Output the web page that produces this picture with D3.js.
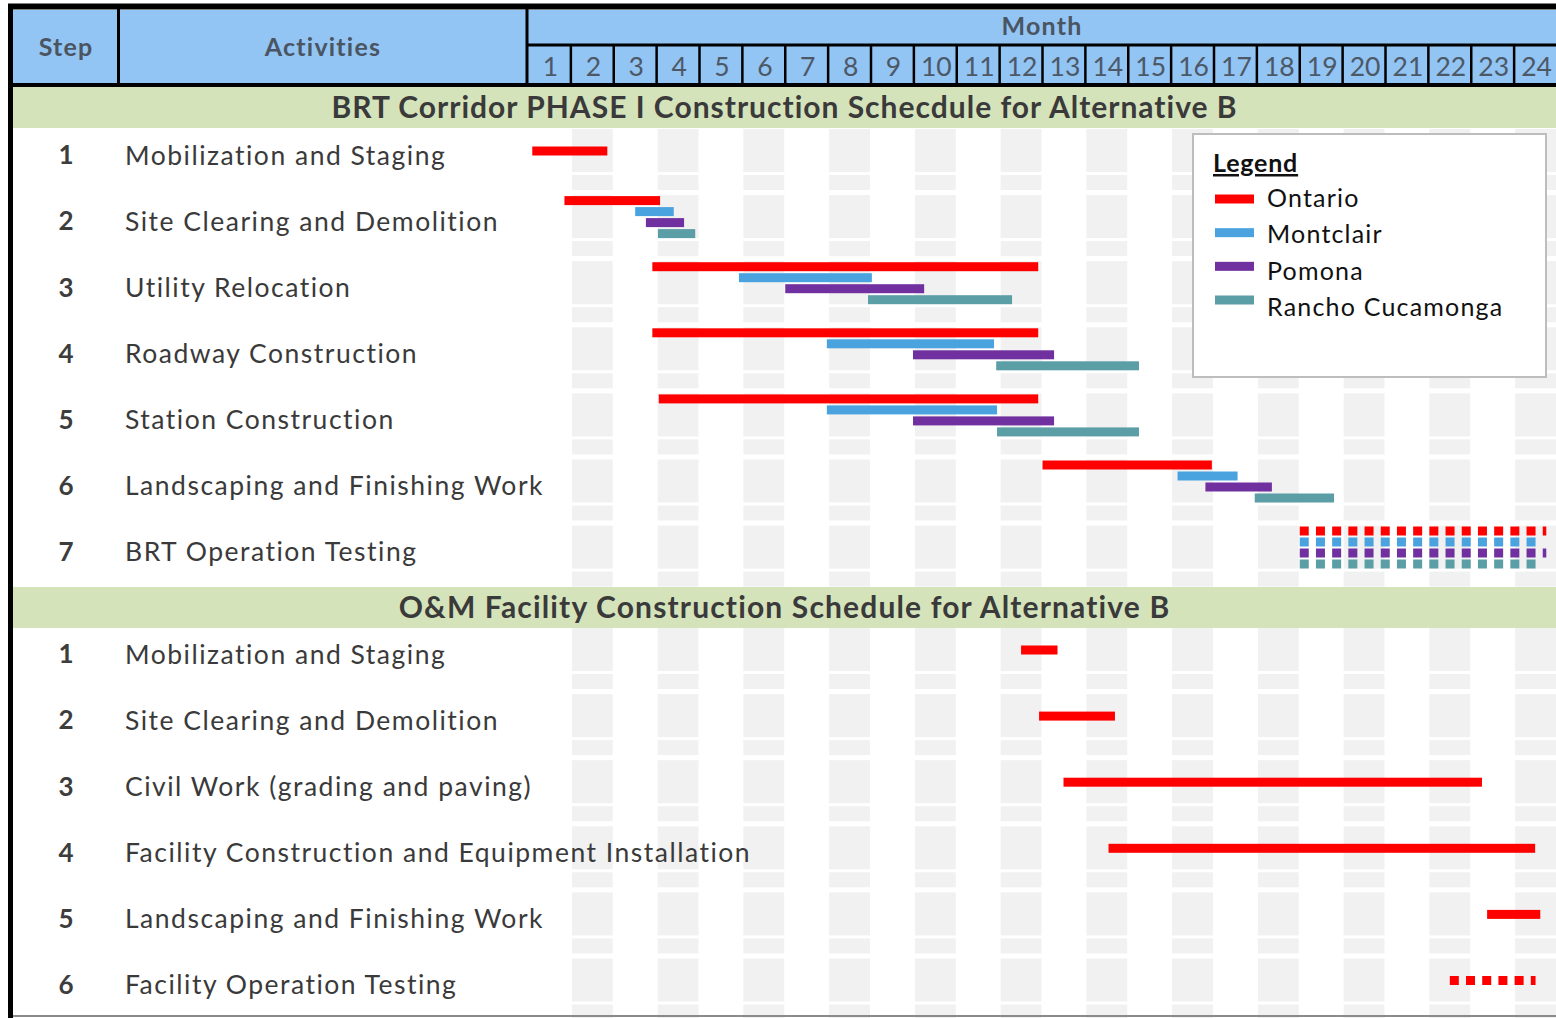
<!DOCTYPE html>
<html>
<head>
<meta charset="utf-8">
<script src="https://cdn.jsdelivr.net/npm/d3@7"></script>
<style>
body { margin: 0; background: #fff; }
svg { display: block; font-family: Lato, "Open Sans", sans-serif; }
</style>
</head>
<body>
<svg id="chart" width="1556" height="1018"></svg>
<script>
var months = [1, 2, 3, 4, 5, 6, 7, 8, 9, 10, 11, 12, 13, 14, 15, 16, 17, 18, 19, 20, 21, 22, 23, 24];
var cities = ["Ontario", "Montclair", "Pomona", "Rancho Cucamonga"];
var cityColors = ["#ff0000", "#4aa3df", "#7030a0", "#5b9ea6"];

var phase1Title = "BRT Corridor PHASE I Construction Schecdule for Alternative B";
var phase1Steps = [1, 2, 3, 4, 5, 6, 7];
var phase1Activities = ["Mobilization and Staging", "Site Clearing and Demolition", "Utility Relocation",
    "Roadway Construction", "Station Construction", "Landscaping and Finishing Work", "BRT Operation Testing"];
// [start month, end month] measured from the left of month 1, one entry per step
var phase1Ontario   = [[0.1, 1.85], [0.85, 3.08], [2.9, 11.9], [2.9, 11.9], [3.05, 11.9], [12.0, 15.95], [18.0, 23.75]];
var phase1Montclair = [null, [2.5, 3.4], [4.92, 8.02], [6.97, 10.87], [6.97, 10.94], [15.15, 16.55], [18.0, 23.5]];
var phase1Pomona    = [null, [2.75, 3.64], [6.0, 9.24], [8.98, 12.27], [8.98, 12.27], [15.8, 17.35], [18.0, 23.75]];
var phase1Rancho    = [null, [3.03, 3.9], [7.93, 11.29], [10.92, 14.25], [10.94, 14.25], [16.95, 18.8], [18.0, 23.5]];
var phase1Testing = [7];

var phase2Title = "O&M Facility Construction Schedule for Alternative B";
var phase2Steps = [1, 2, 3, 4, 5, 6];
var phase2Activities = ["Mobilization and Staging", "Site Clearing and Demolition", "Civil Work (grading and paving)",
    "Facility Construction and Equipment Installation", "Landscaping and Finishing Work", "Facility Operation Testing"];
var phase2Ontario = [[11.5, 12.35], [11.92, 13.69], [12.49, 22.25], [13.54, 23.49], [22.37, 23.61], [21.5, 23.5]];
var phase2Testing = [6];

var svg = d3.select("#chart");
var W = 1556, H = 1018;
var rowH = 66.1;

var x = d3.scaleLinear().domain([0, 24]).range([528, 1557]);
var monthBand = d3.scaleBand().domain(months).range([528, 1557]);
var y1 = d3.scaleBand().domain(phase1Steps).range([129, 129 + phase1Steps.length * rowH]);
var y2 = d3.scaleBand().domain(phase2Steps).range([628, 628 + phase2Steps.length * rowH]);
var color = d3.scaleOrdinal().domain(cities).range(cityColors);

svg.append("rect").attr("width", W).attr("height", H).attr("fill", "#fff");

function buildBars(steps, series, testing) {
    var out = [];
    steps.forEach(function(s, i) {
        var here = [];
        series.forEach(function(arr, c) {
            if (arr && arr[i]) here.push({ city: cities[c], span: arr[i] });
        });
        here.forEach(function(b, j) {
            out.push({ step: s, city: b.city, start: b.span[0], end: b.span[1],
                lane: j - (here.length - 1) / 2, dashed: testing.indexOf(s) >= 0 });
        });
    });
    return out;
}

var sections = [
    { title: phase1Title, steps: phase1Steps, acts: phase1Activities, y: y1, bandTop: 87, spacing: 1,
      bars: buildBars(phase1Steps, [phase1Ontario, phase1Montclair, phase1Pomona, phase1Rancho], phase1Testing) },
    { title: phase2Title, steps: phase2Steps, acts: phase2Activities, y: y2, bandTop: 587, spacing: 1.15,
      bars: buildBars(phase2Steps, [phase2Ontario], phase2Testing) }
];

var evenMonths = months.filter(function(m) { return m % 2 === 0; });

// light grey cells in even month columns
sections.forEach(function(sec) {
    var g = svg.append("g");
    sec.steps.forEach(function(s) {
        evenMonths.forEach(function(m) {
            g.append("rect").attr("x", monthBand(m) + 1).attr("width", monthBand.bandwidth() - 2)
                .attr("y", sec.y(s)).attr("height", 43).attr("fill", "#f1f1f1");
            g.append("rect").attr("x", monthBand(m) + 1).attr("width", monthBand.bandwidth() - 2)
                .attr("y", sec.y(s) + 46).attr("height", 15).attr("fill", "#f1f1f1");
        });
    });
});

sections.forEach(function(sec) {
    // green section banner
    svg.append("rect").attr("x", 13).attr("y", sec.bandTop).attr("width", W - 13).attr("height", 41)
        .attr("fill", "#d5e3bb");
    svg.append("text").attr("x", (13 + W) / 2).attr("y", sec.bandTop + 20.5).attr("dy", "0.36em")
        .attr("text-anchor", "middle").attr("font-size", 30).attr("font-weight", "bold")
        .attr("letter-spacing", sec.spacing).attr("fill", "#3a3a3a").text(sec.title);

    var rows = svg.append("g").selectAll("g").data(sec.steps).enter().append("g");
    rows.append("text").attr("x", 66).attr("y", function(s) { return sec.y(s) + 26; }).attr("dy", "0.36em")
        .attr("text-anchor", "middle").attr("font-size", 26).attr("font-weight", "bold")
        .attr("fill", "#3d3d3d").text(function(s) { return s; });
    rows.append("text").attr("x", 125).attr("y", function(s) { return sec.y(s) + 26; }).attr("dy", "0.36em")
        .attr("font-size", 26.5).attr("letter-spacing", 1.5).attr("fill", "#3a3a3a")
        .text(function(s, i) { return sec.acts[i]; });

    var barY = function(d) { return sec.y(d.step) + 22 + d.lane * 11; };
    svg.append("g").selectAll("rect").data(sec.bars.filter(function(d) { return !d.dashed; })).enter()
        .append("rect")
        .attr("x", function(d) { return x(d.start); })
        .attr("width", function(d) { return x(d.end) - x(d.start); })
        .attr("y", function(d) { return barY(d) - 4.5; })
        .attr("height", 9)
        .attr("fill", function(d) { return color(d.city); });
    svg.append("g").selectAll("line").data(sec.bars.filter(function(d) { return d.dashed; })).enter()
        .append("line")
        .attr("x1", function(d) { return x(d.start); })
        .attr("x2", function(d) { return x(d.end); })
        .attr("y1", barY).attr("y2", barY)
        .attr("stroke", function(d) { return color(d.city); })
        .attr("stroke-width", 9)
        .attr("stroke-dasharray", "9,7.2");
});

// legend
var legend = svg.append("g");
legend.append("rect").attr("x", 1193).attr("y", 134).attr("width", 353).attr("height", 243)
    .attr("fill", "#fff").attr("stroke", "#bdbdbd").attr("stroke-width", 2);
legend.append("text").attr("x", 1213).attr("y", 163).attr("dy", "0.36em").attr("font-size", 25)
    .attr("letter-spacing", 0.8).attr("font-weight", "bold").attr("text-decoration", "underline")
    .attr("fill", "#111").text("Legend");
var swY = d3.scaleLinear().domain([0, 3]).range([199, 300]);
var txY = d3.scaleLinear().domain([0, 3]).range([198, 307]);
cities.forEach(function(c, i) {
    legend.append("rect").attr("x", 1215).attr("y", swY(i) - 4.5).attr("width", 39).attr("height", 9)
        .attr("fill", color(c));
    legend.append("text").attr("x", 1267).attr("y", txY(i)).attr("dy", "0.36em").attr("font-size", 25)
        .attr("letter-spacing", 1.2).attr("fill", "#111").text(c);
});

// header
var head = svg.append("g");
head.append("rect").attr("x", 13).attr("y", 10).attr("width", W - 13).attr("height", 75).attr("fill", "#92c4f4");
[["Step", 66, 47], ["Activities", 323, 47], ["Month", (528 + W) / 2, 26]].forEach(function(h) {
    head.append("text").attr("x", h[1]).attr("y", h[2]).attr("dy", "0.36em").attr("text-anchor", "middle")
        .attr("font-size", 25).attr("font-weight", "bold").attr("letter-spacing", 1.2)
        .attr("fill", "#4a5561").text(h[0]);
});
head.selectAll(".mnum").data(months).enter().append("text").attr("class", "mnum")
    .attr("x", function(m) { return monthBand(m) + monthBand.bandwidth() / 2 + 1; })
    .attr("y", 66).attr("dy", "0.36em").attr("text-anchor", "middle")
    .attr("font-size", 26.5).attr("fill", "#4d5866").text(function(m) { return m; });
head.selectAll(".msep").data(months.slice(1)).enter().append("line").attr("class", "msep")
    .attr("x1", function(m) { return monthBand(m); }).attr("x2", function(m) { return monthBand(m); })
    .attr("y1", 45).attr("y2", 85).attr("stroke", "#000").attr("stroke-width", 2.5);
head.append("line").attr("x1", 118.5).attr("x2", 118.5).attr("y1", 8).attr("y2", 86).attr("stroke", "#000").attr("stroke-width", 3);
head.append("line").attr("x1", 527).attr("x2", 527).attr("y1", 8).attr("y2", 86).attr("stroke", "#000").attr("stroke-width", 3);
head.append("line").attr("x1", 527).attr("x2", W).attr("y1", 45).attr("y2", 45).attr("stroke", "#000").attr("stroke-width", 3);
head.append("line").attr("x1", 10).attr("x2", W).attr("y1", 85).attr("y2", 85).attr("stroke", "#000").attr("stroke-width", 4);
head.append("line").attr("x1", 8).attr("x2", W).attr("y1", 6.5).attr("y2", 6.5).attr("stroke", "#000").attr("stroke-width", 6);

// outer borders
svg.append("line").attr("x1", 10.5).attr("x2", 10.5).attr("y1", 4).attr("y2", H).attr("stroke", "#000").attr("stroke-width", 5);
svg.append("line").attr("x1", 13).attr("x2", W).attr("y1", 1016).attr("y2", 1016).attr("stroke", "#8a8a8a").attr("stroke-width", 2);
</script>
</body>
</html>
